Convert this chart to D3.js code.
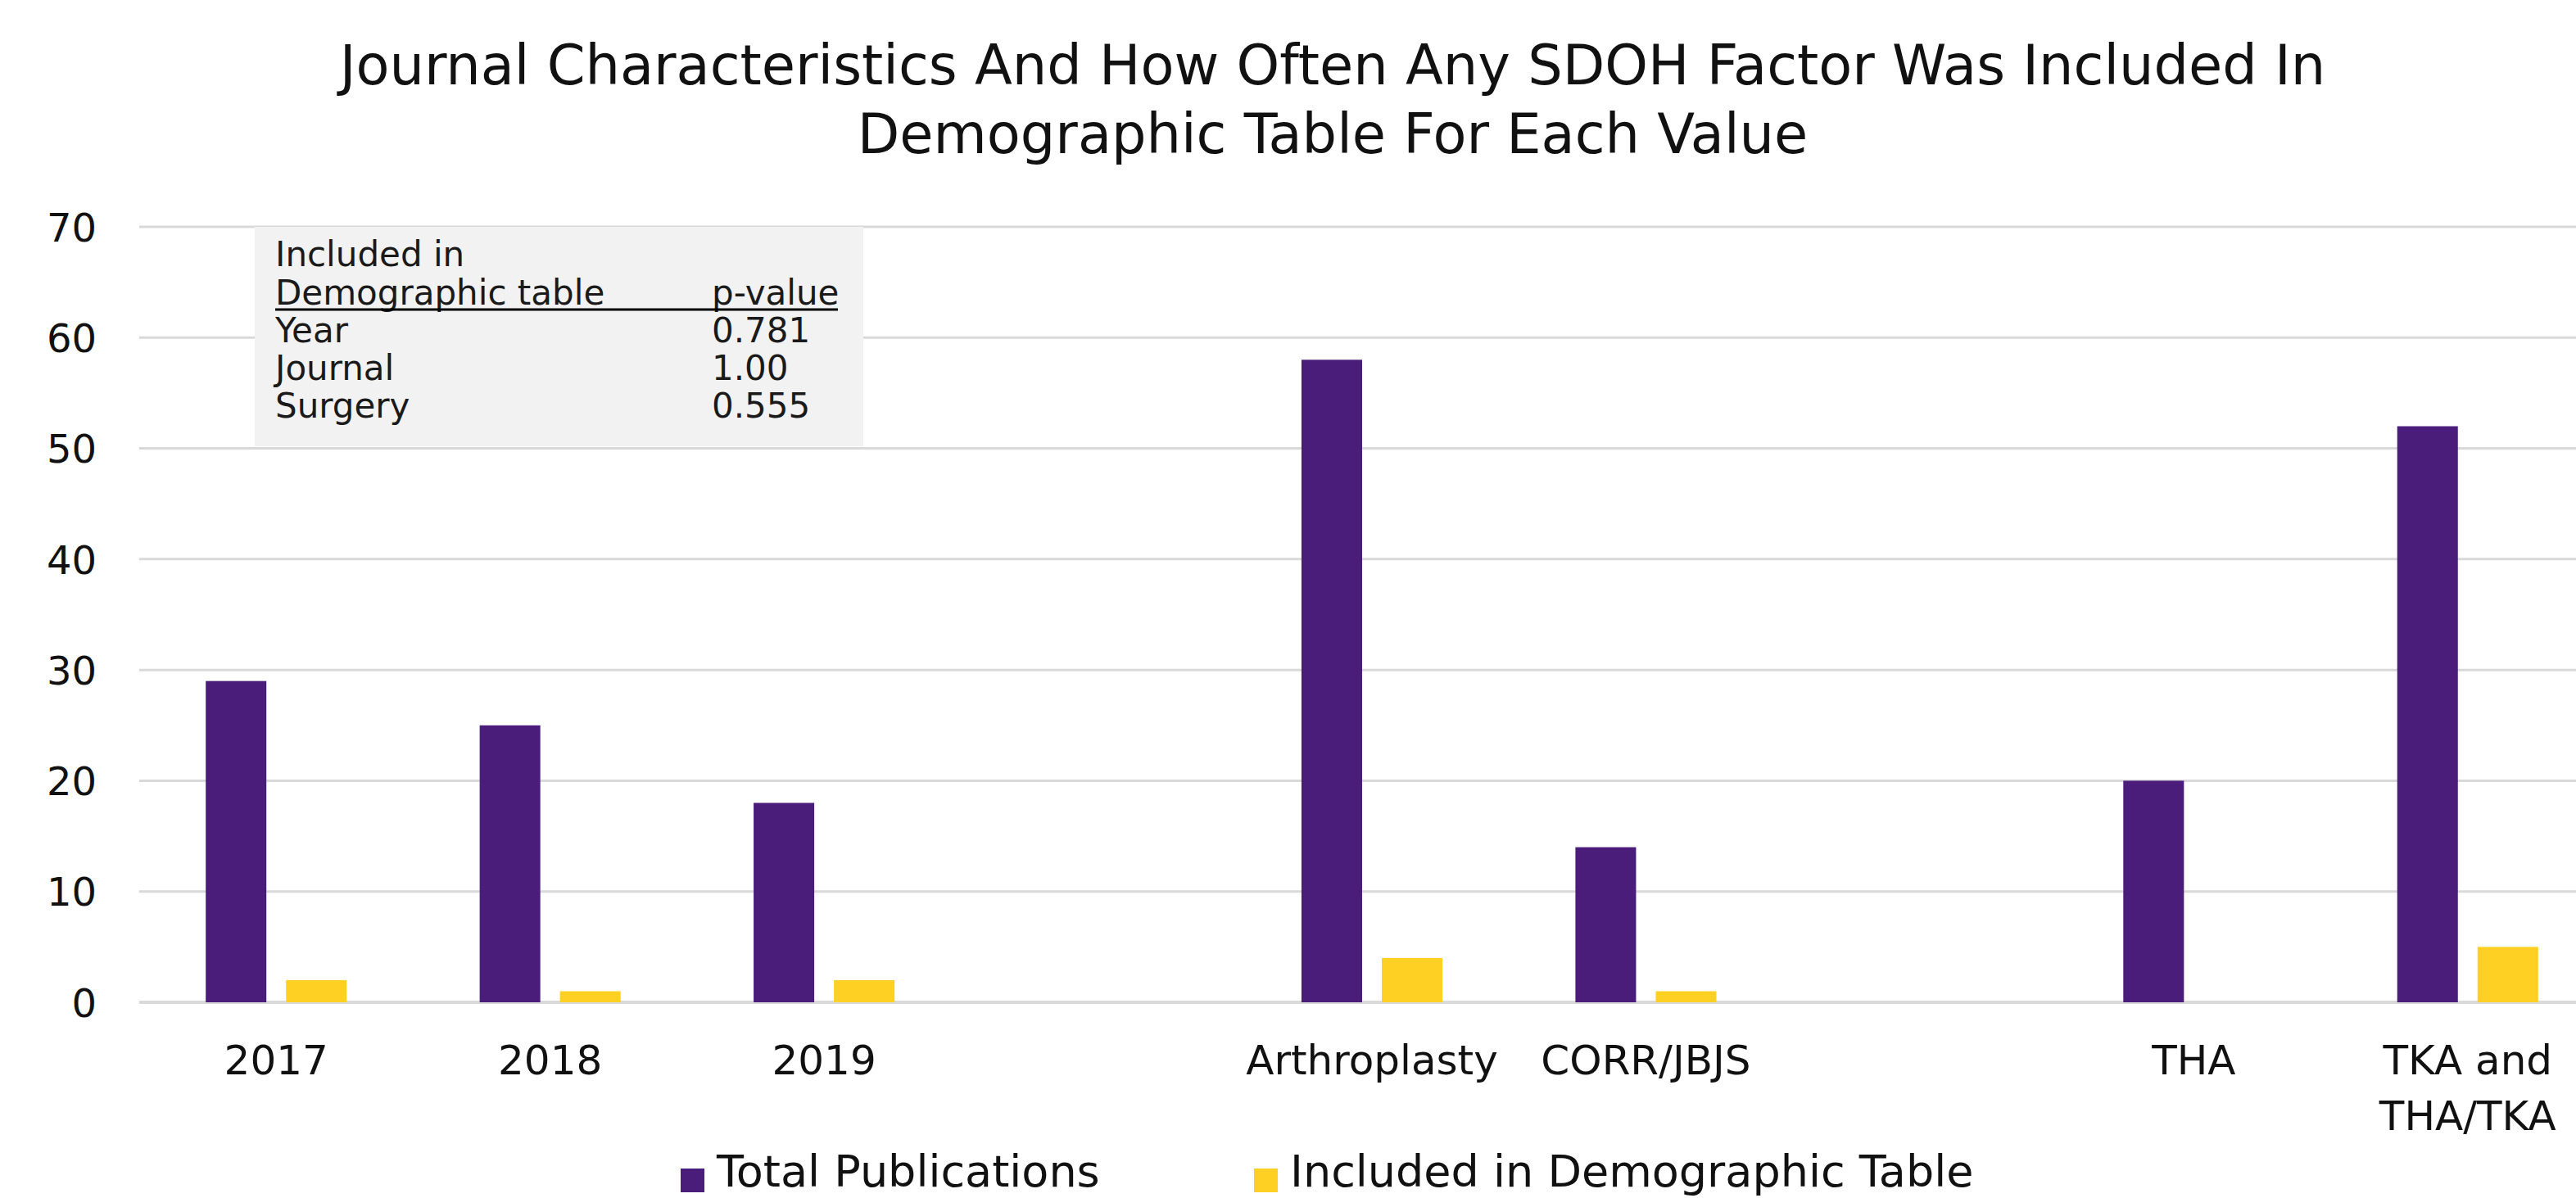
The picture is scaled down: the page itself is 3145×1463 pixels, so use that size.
<!DOCTYPE html>
<html>
<head>
<meta charset="utf-8">
<script src="https://cdn.jsdelivr.net/npm/d3@7"></script>
<style>
  html, body { margin: 0; padding: 0; background: #ffffff; overflow: hidden; }
  svg { display: block; font-family: "DejaVu Sans", sans-serif; }
</style>
</head>
<body>
<svg id="chart" width="3145" height="1463"></svg>
<script>
// Category labels (empty slots separate the Year / Journal / Surgery groups)
const categories = ["2017", "2018", "2019", "", "Arthroplasty", "CORR/JBJS", "", "THA", "TKA and THA/TKA"];
const categoryLines = [["2017"], ["2018"], ["2019"], [""], ["Arthroplasty"], ["CORR/JBJS"], [""], ["THA"], ["TKA and", "THA/TKA"]];

// Series values
const seriesNames = ["Total Publications", "Included in Demographic Table"];
const totalPublications = [29, 25, 18, null, 58, 14, null, 20, 52];
const includedInTable = [2, 1, 2, null, 4, 1, null, 0, 5];

// Y axis ticks
const yTicks = [0, 10, 20, 30, 40, 50, 60, 70];

// p-value table inside the chart
const pHeader = ["Included in", "Demographic table", "p-value"];
const pRows = ["Year", "Journal", "Surgery"];
const pValues = ["0.781", "1.00", "0.555"];

const titleLines = [
  "Journal Characteristics And How Often Any SDOH Factor Was Included In",
  "Demographic Table For Each Value"
];

const colors = ["#4A1D7B", "#FDD023"];

const svg = d3.select("#chart");
svg.append("rect").attr("width", 3145).attr("height", 1463).attr("fill", "#ffffff");

const plot = { left: 170, right: 3180, top: 277, bottom: 1224 };

const x0 = d3.scaleBand()
  .domain(d3.range(categories.length))
  .range([plot.left, plot.right])
  .padding(0);

const x1 = d3.scaleBand()
  .domain(d3.range(seriesNames.length))
  .range([0, x0.bandwidth()])
  .paddingInner(0.245)
  .paddingOuter(0.828);

const y = d3.scaleLinear().domain([0, 70]).range([plot.bottom, plot.top]);

// Title
svg.append("g").selectAll("text")
  .data(titleLines)
  .join("text")
  .attr("x", 1627)
  .attr("y", (d, i) => 103 + i * 84)
  .attr("text-anchor", "middle")
  .attr("font-size", 67)
  .attr("fill", "#111")
  .text(d => d);

// Gridlines
svg.append("g").selectAll("line")
  .data(yTicks)
  .join("line")
  .attr("x1", plot.left)
  .attr("x2", plot.right)
  .attr("y1", d => y(d))
  .attr("y2", d => y(d))
  .attr("stroke", "#D9D9D9")
  .attr("stroke-width", d => d === 0 ? 4 : 3);

// Y axis labels
const yAxis = d3.axisLeft(y).tickValues(yTicks).tickSize(0).tickPadding(0);
const yg = svg.append("g").attr("transform", `translate(118,0)`).call(yAxis);
yg.select(".domain").remove();
yg.selectAll("text")
  .attr("font-size", 48)
  .attr("font-family", "DejaVu Sans, sans-serif")
  .attr("fill", "#111")
  .attr("dy", "0.36em");

// p-value box
const box = svg.append("g");
box.append("rect")
  .attr("x", 311).attr("y", 277)
  .attr("width", 743).attr("height", 268)
  .attr("fill", "#F2F2F2");
const bt = { x: 336, px: 869, size: 42, color: "#1a1a1a" };
box.append("text").attr("x", bt.x).attr("y", 325).attr("font-size", bt.size).attr("fill", bt.color).text(pHeader[0]);
box.append("text").attr("x", bt.x).attr("y", 372).attr("font-size", bt.size).attr("fill", bt.color).text(pHeader[1]);
box.append("text").attr("x", bt.px).attr("y", 372).attr("font-size", bt.size).attr("fill", bt.color).text(pHeader[2]);
box.append("line").attr("x1", bt.x).attr("x2", 1023).attr("y1", 378).attr("y2", 378)
  .attr("stroke", "#000").attr("stroke-width", 3);
box.selectAll("text.row")
  .data(pRows)
  .join("text")
  .attr("class", "row")
  .attr("x", bt.x)
  .attr("y", (d, i) => 418 + i * 46)
  .attr("font-size", bt.size).attr("fill", bt.color)
  .text(d => d);
box.selectAll("text.pv")
  .data(pValues)
  .join("text")
  .attr("class", "pv")
  .attr("x", bt.px)
  .attr("y", (d, i) => 418 + i * 46)
  .attr("font-size", bt.size).attr("fill", bt.color)
  .text(d => d);

// Bars
const series = [totalPublications, includedInTable];
const barG = svg.append("g");
series.forEach((vals, s) => {
  barG.append("g").selectAll("rect")
    .data(vals.map((v, i) => ({ v, i })).filter(d => d.v !== null && d.v > 0))
    .join("rect")
    .attr("x", d => x0(d.i) + x1(s))
    .attr("width", x1.bandwidth())
    .attr("y", d => y(d.v))
    .attr("height", d => y(0) - y(d.v))
    .attr("fill", colors[s]);
});

// X axis labels
const xg = svg.append("g");
xg.selectAll("text")
  .data(categoryLines.map((lines, i) => ({ lines, i })))
  .join("text")
  .attr("x", d => x0(d.i) + x0.bandwidth() / 2)
  .attr("y", 1312)
  .attr("text-anchor", "middle")
  .attr("font-size", 50)
  .attr("fill", "#111")
  .each(function(d) {
    d3.select(this).selectAll("tspan")
      .data(d.lines)
      .join("tspan")
      .attr("x", x0(d.i) + x0.bandwidth() / 2)
      .attr("dy", (l, k) => k === 0 ? 0 : 68)
      .text(l => l);
  });

// Legend
const legendX = [831, 1531];
const lg = svg.append("g");
seriesNames.forEach((name, s) => {
  lg.append("rect").attr("x", legendX[s]).attr("y", 1427).attr("width", 29).attr("height", 29).attr("fill", colors[s]);
  lg.append("text").attr("x", legendX[s] + 44).attr("y", 1449).attr("font-size", 54).attr("fill", "#111").text(name);
});
</script>
</body>
</html>
